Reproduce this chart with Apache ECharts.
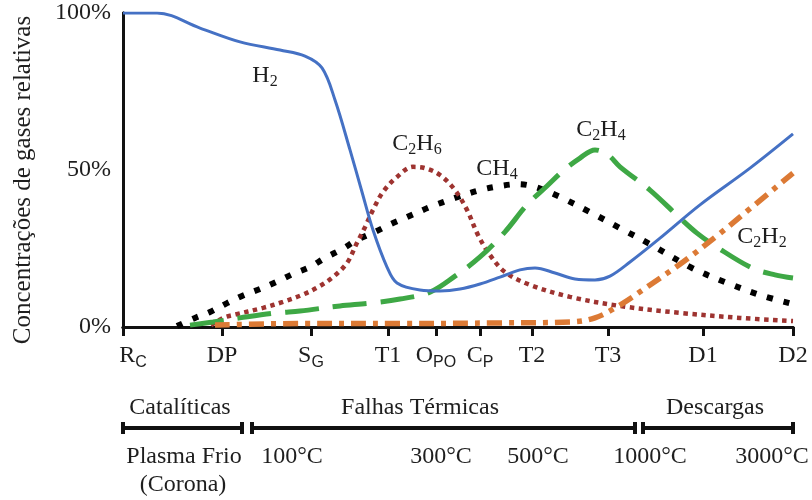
<!DOCTYPE html>
<html>
<head>
<meta charset="utf-8">
<script src="https://cdn.jsdelivr.net/npm/echarts@6/dist/echarts.min.js"></script>
<style>html,body{margin:0;padding:0;background:#fff}#c{width:812px;height:500px}</style>
</head>
<body>
<div id="c"></div>
<script>
// ---- data ----
const tickPos = [0, 99, 188, 265, 313, 357, 409, 485, 580, 670];
const tickMain = ['R', 'DP', 'S', 'T1', 'O', 'C', 'T2', 'T3', 'D1', 'D2'];
const tickSub  = ['C', '', 'G', '', 'PO', 'P', '', '', '', ''];
const yTicks = [0, 50, 100];

const h2 = [[0,100],[34,100],[77,95.2],[117,90.8],[157,88.2],[182,86.3],[199,82.5],[212,72.3],[227,56.4],[239,43],[250,30.9],[264,19.1],[274,14],[297,11.8],[317,11.5],[337,12.1],[357,13.7],[377,15.9],[397,18.2],[412,18.8],[432,17.2],[452,15.3],[472,15],[487,16.2],[507,20.7],[537,28.3],[577,38.9],[627,50.6],[670,61.5]];
const c2h6 = [[88,0.5],[100,2.9],[110,3.8],[140,6.1],[160,8],[179,10.2],[195,12.7],[210,15.9],[224,20.4],[234,26.8],[242,31.8],[250,37.3],[260,43],[274,47.8],[290,51],[302,50.6],[317,48.4],[332,43.6],[344,37.3],[355,29.3],[367,22.9],[382,17.5],[407,13.4],[447,9.6],[497,6.7],[557,4.5],[617,2.9],[670,1.9]];
const ch4 = [[54,0.3],[72,2.9],[87,4.8],[104,7.6],[119,9.9],[137,12.1],[153,14.3],[170,16.9],[187,19.1],[202,22],[219,24.8],[234,27.7],[252,30.3],[268,32.8],[284,35],[307,38.2],[332,41.1],[357,43.6],[377,44.9],[395,45.5],[412,44.6],[437,41.4],[467,36.6],[497,31.5],[527,26.4],[569,18.8],[602,14.3],[637,10.2],[670,7.3]];
const c2h4 = [[67,0.6],[90,1.6],[117,2.9],[154,4.5],[177,5.1],[217,6.7],[247,7.6],[277,8.9],[307,11.1],[332,16.2],[357,22.3],[382,30.3],[404,38.9],[424,44.9],[440,49.7],[457,53.8],[472,56.4],[485,54.8],[497,51],[527,43.6],[557,34.7],[574,29.9],[595,25.2],[629,18.8],[652,16.6],[670,15.6]];
const c2h2 = [[92,0.6],[177,1.1],[277,1.1],[377,1.3],[447,1.6],[472,2.9],[497,7],[527,13.4],[560,20.7],[595,29.3],[629,38.2],[670,49]];

// ---- chart ----
const SERIF = '"Liberation Serif","Times New Roman",serif';
const SANS = '"Liberation Sans",Arial,sans-serif';
const TXT = '#1e1e1e';
const chart = echarts.init(document.getElementById('c'), null, {renderer: 'canvas'});

const richLbl = {
  m: {fontFamily: SERIF, fontSize: 24, color: TXT, lineHeight: 30},
  s: {fontFamily: SANS, fontSize: 16, color: TXT, verticalAlign: 'bottom', lineHeight: 30},
  f: {fontFamily: SERIF, fontSize: 24, color: TXT, lineHeight: 30, padding: [0, 0, 0, 20]}
};
const chemRich = {
  m: {fontFamily: SERIF, fontSize: 24, fill: TXT, lineHeight: 28},
  s: {fontFamily: SERIF, fontSize: 16, fill: TXT, lineHeight: 28, verticalAlign: 'bottom'}
};
function chem(x, y, txt) {
  return {type: 'text', x: x, y: y, z: 10,
    style: {text: txt, rich: chemRich, align: 'center', verticalAlign: 'middle'}};
}
function plain(x, y, txt) {
  return {type: 'text', x: x, y: y, z: 10,
    style: {text: txt, fontFamily: SERIF, fontSize: 24, fill: TXT, align: 'center', verticalAlign: 'middle'}};
}
function bracket(x1, x2, y) {
  const st = {stroke: '#111', lineWidth: 4};
  return [
    {type: 'line', shape: {x1: x1, y1: y, x2: x2, y2: y}, style: st},
    {type: 'line', shape: {x1: x1, y1: y - 6, x2: x1, y2: y + 6}, style: st},
    {type: 'line', shape: {x1: x2, y1: y - 6, x2: x2, y2: y + 6}, style: st}
  ];
}

const axisLineStyle = {color: '#111', width: 3};

chart.setOption({
  animation: false,
  backgroundColor: '#fff',
  grid: {left: 123, right: 19, top: 13, bottom: 173},
  xAxis: [{
    type: 'value', min: 0, max: 670, position: 'bottom',
    axisLine: {show: true, lineStyle: axisLineStyle},
    axisTick: {show: true, customValues: tickPos, length: 9, lineStyle: {color: '#111', width: 3}},
    axisLabel: {
      customValues: tickPos, margin: 14,
      formatter: function (v) {
        const i = tickPos.indexOf(v);
        if (i < 0) return '';
        const tag = i === 0 ? 'f' : 'm';
        return '{' + tag + '|' + tickMain[i] + '}' + (tickSub[i] ? '{s|' + tickSub[i] + '}' : '');
      },
      rich: richLbl
    },
    splitLine: {show: false}
  }, {
    type: 'value', min: 0, max: 670, position: 'top',
    axisLine: {show: true, lineStyle: axisLineStyle},
    axisTick: {show: true, inside: true, customValues: tickPos, length: 7, lineStyle: {color: '#111', width: 3}},
    axisLabel: {show: false},
    splitLine: {show: false}
  }],
  yAxis: [{
    type: 'value', min: 0, max: 100, interval: 50, position: 'left',
    axisLine: {show: true, lineStyle: axisLineStyle},
    axisTick: {show: false},
    axisLabel: {customValues: yTicks, formatter: '{value}%', fontFamily: SERIF, fontSize: 24, color: TXT, margin: 12},
    splitLine: {show: false}
  }, {
    type: 'value', min: 0, max: 100, position: 'right',
    axisLine: {show: true, lineStyle: axisLineStyle},
    axisTick: {show: false}, axisLabel: {show: false}, splitLine: {show: false}
  }],
  series: [
    {name: 'CH4', type: 'line', data: ch4, smooth: 0.35, showSymbol: false, z: 3,
      lineStyle: {color: '#000', width: 6, type: [6, 11], cap: 'butt'}},
    {name: 'C2H6', type: 'line', data: c2h6, smooth: 0.35, showSymbol: false, z: 4,
      lineStyle: {color: '#9e3330', width: 4.5, type: [4.5, 4.5], cap: 'butt'}},
    {name: 'C2H4', type: 'line', data: c2h4, smooth: 0.35, showSymbol: false, z: 5,
      lineStyle: {color: '#3ea845', width: 5, type: [34, 14], cap: 'butt'}},
    {name: 'C2H2', type: 'line', data: c2h2, smooth: 0.35, showSymbol: false, z: 5,
      lineStyle: {color: '#dc7a35', width: 5.5, type: [15, 7, 5, 7], cap: 'butt'}},
    {name: 'H2', type: 'line', data: h2, smooth: 0.35, showSymbol: false, z: 6,
      lineStyle: {color: '#4571c4', width: 3}}
  ],
  graphic: [
    {type: 'text', x: 23, y: 180, rotation: Math.PI / 2,
      style: {text: 'Concentrações de gases relativas', fontFamily: SERIF, fontSize: 25, fill: TXT, align: 'center', verticalAlign: 'middle'}},
    chem(265, 76, '{m|H}{s|2}'),
    chem(417, 144, '{m|C}{s|2}{m|H}{s|6}'),
    chem(497, 169, '{m|CH}{s|4}'),
    chem(601, 130, '{m|C}{s|2}{m|H}{s|4}'),
    chem(762, 237, '{m|C}{s|2}{m|H}{s|2}'),
    plain(180, 408, 'Catalíticas'),
    plain(420, 408, 'Falhas Térmicas'),
    plain(715, 408, 'Descargas'),
    ...bracket(123, 242, 428),
    ...bracket(252, 635, 428),
    ...bracket(643, 793, 428),
    plain(184, 457, 'Plasma Frio'),
    plain(183, 485, '(Corona)'),
    plain(292, 457, '100°C'),
    plain(441, 457, '300°C'),
    plain(538, 457, '500°C'),
    plain(650, 457, '1000°C'),
    plain(772, 457, '3000°C')
  ]
});
</script>
</body>
</html>
